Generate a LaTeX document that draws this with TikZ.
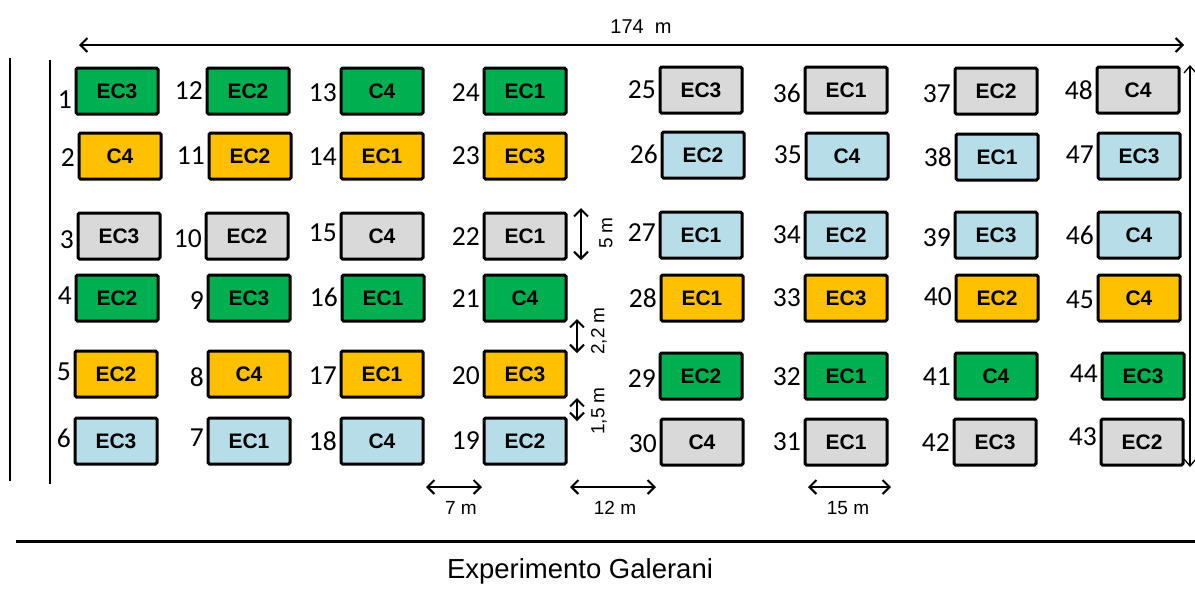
\documentclass[tikz,border=0pt]{standalone}
\usepackage{fontspec}
\setmainfont{Liberation Sans}
\newfontfamily\numfont{Carlito}
\usetikzlibrary{arrows.meta}
\definecolor{cgreen}{HTML}{00B050}
\definecolor{cgold}{HTML}{FFC000}
\definecolor{cgray}{HTML}{D9D9D9}
\definecolor{cblue}{HTML}{B7DEE8}
\tikzset{
  plotbox/.style={draw=black, line width=3pt, rounded corners=1.5pt, minimum width=82pt, minimum height=46pt, inner sep=0pt, font=\fontsize{21}{21}\selectfont\bfseries},
  numlab/.style={font=\numfont\fontsize{27.5}{27.5}\selectfont, inner sep=0pt, anchor=east},
  dimtxt/.style={font=\fontsize{19}{19}\selectfont, inner sep=0pt},
  dimarrow/.style={line width=2pt, {Straight Barb[length=7pt,width=14pt,line width=2pt]}-{Straight Barb[length=7pt,width=14pt,line width=2pt]}},
  border/.style={line width=2.5pt}
}
\newcommand\parcela[6]{%
  \node[plotbox, fill=#3] (p#5) at (#1,#2) {#4};
  \node[numlab] (n#5) at (#1-45,#6) {#5};
}
\begin{document}
\begin{tikzpicture}[x=1pt,y=-1pt]
\useasboundingbox (0,0) rectangle (1195,590);
% row 1
\parcela{117}{91}{cgreen}{EC3}{1}{100}
\parcela{248}{91}{cgreen}{EC2}{12}{91}
\parcela{382}{91}{cgreen}{C4}{13}{93}
\parcela{525}{91}{cgreen}{EC1}{24}{93}
\parcela{701}{90}{cgray}{EC3}{25}{90}
\parcela{846}{90}{cgray}{EC1}{36}{93}
\parcela{996}{91}{cgray}{EC2}{37}{94}
\parcela{1138}{90}{cgray}{C4}{48}{90}
% row 2
\parcela{120}{156}{cgold}{C4}{2}{158}
\parcela{250}{156}{cgold}{EC2}{11}{156}
\parcela{382}{156}{cgold}{EC1}{14}{157}
\parcela{525}{156}{cgold}{EC3}{23}{156}
\parcela{703}{155}{cblue}{EC2}{26}{154}
\parcela{847}{156}{cblue}{C4}{35}{155}
\parcela{997}{157}{cblue}{EC1}{38}{157}
\parcela{1139}{156}{cblue}{EC3}{47}{155}
% row 3
\parcela{119}{236}{cgray}{EC3}{3}{240}
\parcela{247}{236}{cgray}{EC2}{10}{239}
\parcela{382}{236}{cgray}{C4}{15}{233}
\parcela{525}{236}{cgray}{EC1}{22}{237}
\parcela{701}{235}{cblue}{EC1}{27}{233}
\parcela{846}{235}{cblue}{EC2}{34}{235}
\parcela{996}{235}{cblue}{EC3}{39}{238}
\parcela{1139}{235}{cblue}{C4}{46}{235}
% row 4
\parcela{117}{298}{cgreen}{EC2}{4}{296}
\parcela{249}{298}{cgreen}{EC3}{9}{301}
\parcela{383}{298}{cgreen}{EC1}{16}{297}
\parcela{525}{298}{cgreen}{C4}{21}{299}
\parcela{702}{298}{cgold}{EC1}{28}{298}
\parcela{846}{298}{cgold}{EC3}{33}{298}
\parcela{997}{298}{cgold}{EC2}{40}{297}
\parcela{1139}{298}{cgold}{C4}{45}{300}
% row 5
\parcela{116}{374}{cgold}{EC2}{5}{372}
\parcela{249}{374}{cgold}{C4}{8}{377}
\parcela{382}{374}{cgold}{EC1}{17}{376}
\parcela{525}{374}{cgold}{EC3}{20}{376}
\parcela{701}{376}{cgreen}{EC2}{29}{379}
\parcela{846}{376}{cgreen}{EC1}{32}{377}
\parcela{996}{376}{cgreen}{C4}{41}{377}
\parcela{1143}{376}{cgreen}{EC3}{44}{374}
% row 6
\parcela{116}{441}{cblue}{EC3}{6}{438}
\parcela{249}{441}{cblue}{EC1}{7}{438}
\parcela{382}{441}{cblue}{C4}{18}{441}
\parcela{525}{441}{cblue}{EC2}{19}{441}
\parcela{702}{442}{cgray}{C4}{30}{444}
\parcela{846}{442}{cgray}{EC1}{31}{442}
\parcela{995}{442}{cgray}{EC3}{42}{443}
\parcela{1142}{442}{cgray}{EC2}{43}{437}
% frame lines
\coordinate (l1a) at (10,58); \coordinate (l1b) at (10,481);
\coordinate (l2a) at (50,60); \coordinate (l2b) at (50,484);
\draw[border] (l1a) -- (l1b);
\draw[border] (l2a) -- (l2b);
\coordinate (ba) at (16,541); \coordinate (bb) at (1195,541);
\draw[line width=3pt] (ba) -- (bb);
% top dimension 174 m
\coordinate (ta) at (79,45); \coordinate (tb) at (1184,45);
\draw[dimarrow] (ta) -- (tb);
\node[dimtxt, font=\fontsize{20}{20}\selectfont] (t174) at (641,27) {174~~m};
% right vertical arrow
\coordinate (ra) at (1190,65); \coordinate (rb) at (1190,467);
\draw[line width=1.3pt, {Straight Barb[length=7pt,width=12pt,line width=1.3pt]}-{Straight Barb[length=7pt,width=12pt,line width=1.3pt]}] (ra) -- (rb);
% vertical dims
\coordinate (v5a) at (581,208); \coordinate (v5b) at (581,260);
\draw[dimarrow] (v5a) -- (v5b);
\node[dimtxt, rotate=90] (t5) at (606,233) {5 m};
\coordinate (v22a) at (577,319); \coordinate (v22b) at (577,353);
\draw[dimarrow] (v22a) -- (v22b);
\node[dimtxt, rotate=90] (t22) at (599,331) {2,2 m};
\coordinate (v15a) at (577,398); \coordinate (v15b) at (577,421);
\draw[dimarrow] (v15a) -- (v15b);
\node[dimtxt, rotate=90] (t15) at (599,411) {1,5 m};
% horizontal dims
\coordinate (h7a) at (426,487); \coordinate (h7b) at (482,487);
\draw[dimarrow] (h7a) -- (h7b);
\node[dimtxt] (t7) at (461,508) {7 m};
\coordinate (h12a) at (570,487); \coordinate (h12b) at (656,487);
\draw[dimarrow] (h12a) -- (h12b);
\node[dimtxt] (t12) at (615,508) {12 m};
\coordinate (h15a) at (808,487); \coordinate (h15b) at (891,487);
\draw[dimarrow] (h15a) -- (h15b);
\node[dimtxt] (th15) at (848,508) {15 m};
% title
\node[inner sep=0pt, font=\fontsize{27.5}{27.5}\selectfont] (title) at (580,571) {Experimento Galerani};
\end{tikzpicture}
\end{document}
